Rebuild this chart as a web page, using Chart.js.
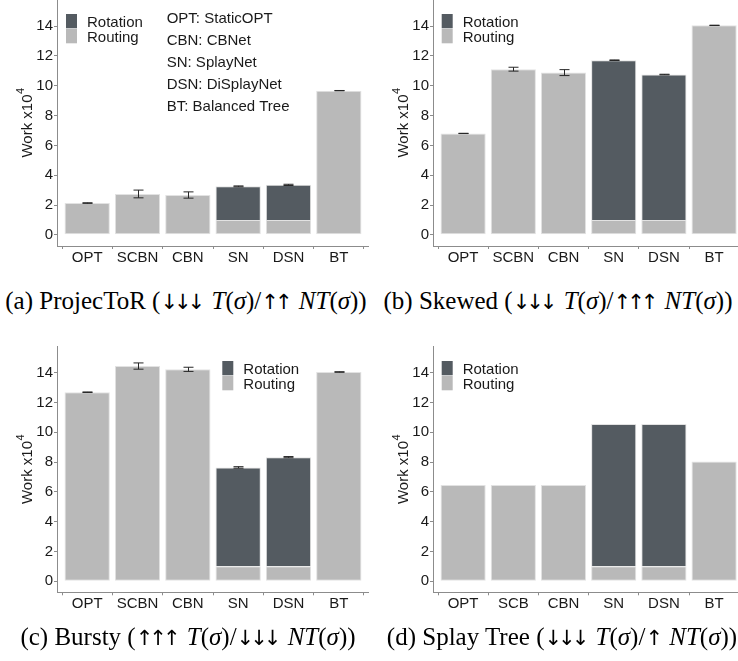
<!DOCTYPE html>
<html>
<head>
<meta charset="utf-8">
<script src="https://cdn.jsdelivr.net/npm/chart.js@4.4.1/dist/chart.umd.min.js"></script>
<style>
  html, body { margin: 0; padding: 0; background: #fff; }
  #page { position: relative; width: 738px; height: 661px; overflow: hidden; background: #fff; }
  canvas { position: absolute; }
  .cap {
    position: absolute;
    width: 400px;
    text-align: center;
    font-family: "Liberation Serif", serif;
    font-size: 25px;
    color: #000;
    white-space: nowrap;
    line-height: 1;
    transform: translateY(-50%);
  }
  .cap .arr {
    font-family: "DejaVu Sans", sans-serif;
    font-size: 21px;
    letter-spacing: -4px;
    margin-right: 4px;
  }
</style>
</head>
<body>
<div id="page">
  <canvas id="chartA" width="369" height="280" style="left:0px;top:0px"></canvas>
  <canvas id="chartB" width="362" height="280" style="left:376px;top:0px"></canvas>
  <canvas id="chartC" width="369" height="280" style="left:0px;top:346px"></canvas>
  <canvas id="chartD" width="362" height="280" style="left:376px;top:346px"></canvas>

  <div class="cap" style="left:-14px;top:300px">(a) ProjecToR (<span class="arr">&#x2193;&#xFE0E;&#x2193;&#xFE0E;&#x2193;&#xFE0E;</span> <i>T</i>(<i>σ</i>)/<span class="arr">&#x2191;&#xFE0E;&#x2191;&#xFE0E;</span> <i>NT</i>(<i>σ</i>))</div>
  <div class="cap" style="left:358px;top:300px">(b) Skewed (<span class="arr">&#x2193;&#xFE0E;&#x2193;&#xFE0E;&#x2193;&#xFE0E;</span> <i>T</i>(<i>σ</i>)/<span class="arr">&#x2191;&#xFE0E;&#x2191;&#xFE0E;&#x2191;&#xFE0E;</span> <i>NT</i>(<i>σ</i>))</div>
  <div class="cap" style="left:-12px;top:636px">(c) Bursty (<span class="arr">&#x2191;&#xFE0E;&#x2191;&#xFE0E;&#x2191;&#xFE0E;</span> <i>T</i>(<i>σ</i>)/<span class="arr">&#x2193;&#xFE0E;&#x2193;&#xFE0E;&#x2193;&#xFE0E;</span> <i>NT</i>(<i>σ</i>))</div>
  <div class="cap" style="left:362px;top:636px">(d) Splay Tree (<span class="arr">&#x2193;&#xFE0E;&#x2193;&#xFE0E;&#x2193;&#xFE0E;</span> <i>T</i>(<i>σ</i>)/<span class="arr">&#x2191;&#xFE0E;</span> <i>NT</i>(<i>σ</i>))</div>
</div>

<script>
// Algorithms compared in every panel (the Splay Tree panel abbreviates SCBN as SCB)
const categories = ['OPT', 'SCBN', 'CBN', 'SN', 'DSN', 'BT'];
const categoriesSplay = ['OPT', 'SCB', 'CBN', 'SN', 'DSN', 'BT'];
const yTickValues = [0, 2, 4, 6, 8, 10, 12, 14];

// Work in units of 10^4, split into routing and rotation cost; error = half-width of the error bar
const projectorRouting  = [2.13, 2.74, 2.67, 1.00, 1.00, 9.67];
const projectorRotation = [0, 0, 0, 2.25, 2.35, 0];
const projectorError    = [0.02, 0.26, 0.21, 0.03, 0.04, 0.01];

const skewedRouting  = [6.80, 11.11, 10.88, 1.00, 1.00, 14.05];
const skewedRotation = [0, 0, 0, 10.71, 9.75, 0];
const skewedError    = [0.01, 0.13, 0.20, 0.02, 0.02, 0.01];

const burstyRouting  = [12.69, 14.45, 14.23, 1.00, 1.00, 14.05];
const burstyRotation = [0, 0, 0, 6.64, 7.33, 0];
const burstyError    = [0.02, 0.21, 0.14, 0.05, 0.04, 0.02];

const splayRouting  = [6.46, 6.46, 6.46, 1.00, 1.00, 8.04];
const splayRotation = [0, 0, 0, 9.56, 9.56, 0];
const splayError    = [0, 0, 0, 0, 0, 0];

const abbreviations = ['OPT: StaticOPT', 'CBN: CBNet', 'SN: SplayNet', 'DSN: DiSplayNet', 'BT: Balanced Tree'];

const ROUTING_COLOR = '#b9b9b9';
const ROTATION_COLOR = '#545b61';
const EDGE_COLOR = '#e2e2e2';
const AXIS_COLOR = '#8c8c8c';
const TEXT_COLOR = '#1a1a1a';
const SANS = '"Liberation Sans", Arial, sans-serif';

const panels = [
  { canvas: 'chartA', labels: categories, routing: projectorRouting, rotation: projectorRotation, error: projectorError,
    xMax: 6.6, padTop: 0, axisHeight: 34, legendAt: [9, 14], notes: abbreviations, notesAt: [109.7, 23.4] },
  { canvas: 'chartB', labels: categories, routing: skewedRouting, rotation: skewedRotation, error: skewedError,
    xMax: 6.476, padTop: 0, axisHeight: 34, legendAt: [8.7, 14] },
  { canvas: 'chartC', labels: categories, routing: burstyRouting, rotation: burstyRotation, error: burstyError,
    xMax: 6.6, padTop: 0.7, axisHeight: 33.7, legendAt: [165.3, 14.3] },
  { canvas: 'chartD', labels: categoriesSplay, routing: splayRouting, rotation: splayRotation, error: splayError,
    xMax: 6.476, padTop: 0.7, axisHeight: 33.7, legendAt: [8.7, 14.3] }
];

// Error bars, in-plot legend, abbreviation notes and the y-axis title with its superscript
function decorations(p) {
  return {
    id: 'decorations',
    afterDatasetsDraw(chart) {
      const { ctx, chartArea, scales } = chart;
      const xs = scales.x, ys = scales.y;

      // error bars centred on each stacked total
      ctx.save();
      ctx.strokeStyle = '#262626';
      ctx.lineWidth = 1;
      p.labels.forEach((_, i) => {
        const e = p.error[i];
        if (!e) return;
        const total = p.routing[i] + p.rotation[i];
        const x = Math.round(xs.getPixelForValue(i + 1)) + 0.5;
        const yHi = ys.getPixelForValue(total + e);
        const yLo = ys.getPixelForValue(total - e);
        ctx.beginPath();
        ctx.moveTo(x, yHi); ctx.lineTo(x, yLo);
        ctx.moveTo(x - 5, yHi); ctx.lineTo(x + 5, yHi);
        ctx.moveTo(x - 5, yLo); ctx.lineTo(x + 5, yLo);
        ctx.stroke();
      });
      ctx.restore();

      // legend: Rotation above Routing
      ctx.save();
      const lx = chartArea.left + p.legendAt[0];
      const ly = chartArea.top + p.legendAt[1];
      const items = chart.data.datasets.slice().reverse();
      ctx.font = '15px ' + SANS;
      ctx.textBaseline = 'alphabetic';
      items.forEach((ds, k) => {
        const y = ly + k * 15;
        ctx.fillStyle = ds.backgroundColor;
        ctx.fillRect(lx, y, 11, 14.3);
        ctx.fillStyle = TEXT_COLOR;
        ctx.fillText(ds.label, lx + 21, y + 13.3);
      });
      ctx.restore();

      if (p.notes) {
        ctx.save();
        ctx.font = '15px ' + SANS;
        ctx.fillStyle = TEXT_COLOR;
        ctx.textBaseline = 'alphabetic';
        p.notes.forEach((t, k) => {
          ctx.fillText(t, chartArea.left + p.notesAt[0], chartArea.top + p.notesAt[1] + 22 * k);
        });
        ctx.restore();
      }

      // y-axis title "Work x10^4"
      ctx.save();
      const tx = chartArea.left - 24.7;
      const ty = (chartArea.top + chartArea.bottom) / 2;
      ctx.translate(tx, ty);
      ctx.rotate(-Math.PI / 2);
      ctx.fillStyle = TEXT_COLOR;
      ctx.textBaseline = 'alphabetic';
      ctx.font = '15px ' + SANS;
      const main = 'Work x10';
      const w1 = ctx.measureText(main).width;
      ctx.font = '11px ' + SANS;
      const w2 = ctx.measureText('4').width;
      const start = -(w1 + w2) / 2;
      ctx.font = '15px ' + SANS;
      ctx.fillText(main, start, 0);
      ctx.font = '11px ' + SANS;
      ctx.fillText('4', start + w1 + 0.5, -8);
      ctx.restore();
    }
  };
}

function axisCommon() {
  return {
    grid: { display: true, drawOnChartArea: false, drawTicks: true, tickLength: 3, color: AXIS_COLOR, tickColor: AXIS_COLOR, lineWidth: 1 },
    border: { display: true, color: AXIS_COLOR, width: 1 }
  };
}

panels.forEach(p => {
  const toPoints = arr => arr.map((v, i) => ({ x: i + 1, y: v }));
  const barStyle = {
    categoryPercentage: 1,
    barPercentage: 0.9,
    borderColor: EDGE_COLOR,
    borderWidth: 1,
    stack: 'work'
  };
  new Chart(document.getElementById(p.canvas), {
    type: 'bar',
    data: {
      datasets: [
        Object.assign({ label: 'Routing', data: toPoints(p.routing), backgroundColor: ROUTING_COLOR, borderSkipped: false }, barStyle),
        Object.assign({ label: 'Rotation', data: toPoints(p.rotation), backgroundColor: ROTATION_COLOR, borderSkipped: 'start' }, barStyle)
      ]
    },
    options: {
      responsive: false,
      animation: false,
      events: [],
      layout: { padding: { top: p.padTop, left: 0, right: 0, bottom: 0 } },
      plugins: { legend: { display: false }, tooltip: { enabled: false }, title: { display: false } },
      scales: {
        x: Object.assign(axisCommon(), {
          type: 'linear',
          min: 0.4,
          max: p.xMax,
          bounds: 'data',
          offset: false,
          afterBuildTicks: s => { s.ticks = p.labels.map((_, i) => ({ value: i + 1 })); },
          afterFit: s => { s.height = p.axisHeight; s.paddingLeft = 0; s.paddingRight = 0; },
          ticks: {
            autoSkip: false, maxRotation: 0, minRotation: 0, padding: 0,
            font: { family: SANS, size: 15 }, color: TEXT_COLOR,
            callback: v => p.labels[Math.round(v) - 1]
          }
        }),
        y: Object.assign(axisCommon(), {
          type: 'linear',
          stacked: true,
          min: -0.75,
          max: 15.75,
          bounds: 'data',
          afterBuildTicks: s => { s.ticks = yTickValues.map(v => ({ value: v })); },
          afterFit: s => { s.width = 57; s.paddingTop = 0; s.paddingBottom = 0; },
          ticks: {
            padding: 1,
            font: { family: SANS, size: 15 }, color: TEXT_COLOR,
            callback: v => String(v)
          }
        })
      }
    },
    plugins: [decorations(p)]
  });
});
</script>
</body>
</html>
